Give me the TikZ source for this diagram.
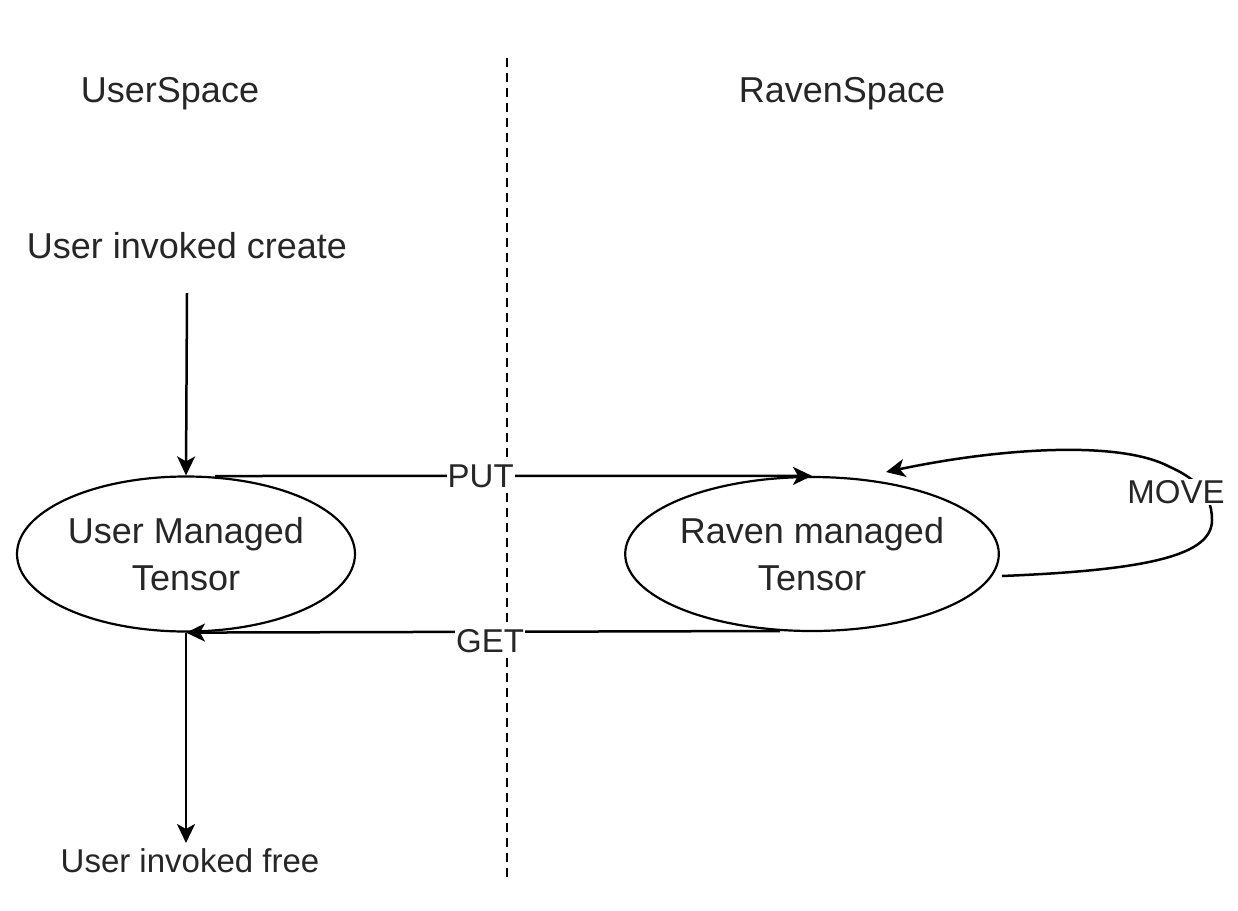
\documentclass[tikz,border=0pt]{standalone}
\usepackage{fontspec}
\setmainfont{Liberation Sans}
\usetikzlibrary{shapes.geometric,arrows.meta}
\begin{document}
\begin{tikzpicture}[x=1pt,y=-1pt,
  big/.style={font=\fontsize{36}{46}\selectfont, text=black!85, inner sep=0pt},
  small/.style={font=\fontsize{33}{40}\selectfont, text=black!85, inner sep=1pt},
  state/.style={ellipse, draw, line width=2.2pt, minimum width=338pt, minimum height=155pt, inner sep=0pt, align=center, font=\fontsize{36}{47}\selectfont, text=black!85},
  conn/.style={line width=2.5pt, -{Stealth[length=19pt,width=18pt,inset=5pt]}},
  lbl/.style={fill=white, inner sep=1pt, font=\fontsize{33}{40}\selectfont, text=black!85}]
\useasboundingbox (0,0) rectangle (1238,910);
% divider
\coordinate (dTop) at (507,58);
\coordinate (dBot) at (507,877);
\draw[line width=1.8pt, dash pattern=on 9pt off 6pt] (dTop) -- (dBot);
% headings
\node[big] (us) at (170,94) {UserSpace};
\node[big] (rs) at (842,94) {RavenSpace};
% nodes
\node[big] (create) at (187,246) {User invoked create};
\node[state] (um) at (186,554) {User Managed\\Tensor};
\node[state, minimum width=369pt, minimum height=154pt] (rm) at (812,554) {Raven managed\\Tensor};
\node[small] (free) at (190,861) {User invoked free};
% connectors
\coordinate (createS) at (187,293);
\draw[conn] (createS) -- (um.north);
\coordinate (putS) at (215,476);
\draw[conn] (putS) -- (rm.north) node[lbl, pos=0.445] (put) {PUT};
\coordinate (getS) at (780,631);
\draw[conn] (getS) -- (um.south);
\node[lbl] (get) at (490,641) {GET};
\coordinate (freeN) at (186,843);
\draw[conn] (um.south) -- (freeN);
% move loop
\coordinate (moveS) at (1002,576);
\coordinate (moveE) at (886,472);
\draw[conn] (moveS) .. controls (1150,570) and (1212,555) .. (1212,520)
  .. controls (1212,490) and (1190,476) .. (1170,467)
  .. controls (1120,440) and (1000,448) .. (moveE);
\node[lbl] (move) at (1176,492) {MOVE};
\end{tikzpicture}
\end{document}
